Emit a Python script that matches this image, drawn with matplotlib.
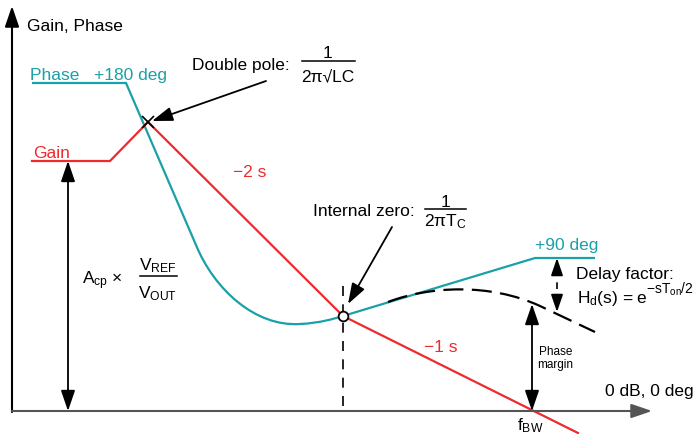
import matplotlib.pyplot as plt
from matplotlib.path import Path
from matplotlib.patches import PathPatch

plt.rcParams['font.family'] = ['Liberation Sans', 'DejaVu Sans']
plt.rcParams['mathtext.fontset'] = 'custom'
plt.rcParams['mathtext.rm'] = 'Liberation Sans'
plt.rcParams['mathtext.it'] = 'Liberation Sans:italic'
plt.rcParams['mathtext.default'] = 'regular'

TEAL = '#1aa0a8'
RED = '#ee2a2e'

# asymptotic gain: flat, rise, -2 slope to the zero, -1 slope past f_BW
gain_x = [32, 110, 148, 343, 578]
gain_y = [162, 162, 123, 317, 434]

# phase: +180 plateau, drop through the double pole, dip, rise to +90
phase_pts = [(32, 84), (126, 84), (196, 246),
             (214, 290), (255, 328), (300, 325),
             (320, 324), (333, 320), (343, 317),
             (535, 259), (595, 259)]
phase_codes = [Path.MOVETO, Path.LINETO, Path.LINETO,
               Path.CURVE4, Path.CURVE4, Path.CURVE4,
               Path.CURVE4, Path.CURVE4, Path.CURVE4,
               Path.LINETO, Path.LINETO]

# phase with the delay factor applied
delay_pts = [(388, 303), (430, 287), (490, 284), (540, 307), (595, 333)]
delay_codes = [Path.MOVETO, Path.CURVE4, Path.CURVE4, Path.CURVE4, Path.LINETO]

pole = (148, 123)
zero = (343, 317)
axis_y = 412

fig = plt.figure(figsize=(6.97, 4.35), dpi=100)
ax = fig.add_axes([0, 0, 1, 1])
ax.set_xlim(0, 697)
ax.set_ylim(435, 0)
ax.axis('off')


def arrow(tip, tail, style='-|>', color='black', lw=1.3, scale=12):
    ax.annotate('', xy=tip, xytext=tail,
                arrowprops=dict(arrowstyle=style + ',head_length=1.05,head_width=0.36',
                                color=color, lw=lw, mutation_scale=scale,
                                shrinkA=0, shrinkB=0))


# axes
arrow((12, 7), (12, axis_y + 1), color='black', lw=1.5)
arrow((652, axis_y), (12, axis_y), color='#555555', lw=1.5)

# curves
ax.plot(gain_x, gain_y, color=RED, lw=1.6, solid_joinstyle='miter')
ax.add_patch(PathPatch(Path(phase_pts, phase_codes), fill=False,
                       edgecolor=TEAL, lw=1.6))
ax.add_patch(PathPatch(Path(delay_pts, delay_codes), fill=False,
                       edgecolor='black', lw=1.6, linestyle=(0, (9, 3.8))))

ax.plot([zero[0], zero[0]], [287, axis_y], color='black', lw=1.2,
        linestyle=(0, (6, 5)))
ax.plot(*pole, marker='x', color='black', ms=8, mew=1.2)
ax.plot(*zero, marker='o', mfc='white', mec='black', ms=7, mew=1.3, zorder=5)

# gain level, phase margin and delay arrows
arrow((68, 162), (68, axis_y), style='<|-|>')
arrow((532, 305), (532, axis_y), style='<|-|>')
ax.plot([557, 557], [270, 302], color='black', lw=1.2, linestyle=(0, (4, 4)))
arrow((557, 259), (557, 274), scale=10)
arrow((557, 313), (557, 298), scale=10)

# callouts
arrow((152, 122), (266, 82))
arrow((348, 305), (392, 228))

fs = 12.5
ax.text(27, 31, 'Gain, Phase', fontsize=fs)
ax.text(30, 80, 'Phase   +180 deg', fontsize=fs, color=TEAL)
ax.text(33, 158, 'Gain', fontsize=fs, color=RED)
ax.text(233, 177, '\u22122 s', fontsize=fs, color=RED)
ax.text(424, 352, '\u22121 s', fontsize=fs, color=RED)
ax.text(535, 250, '+90 deg', fontsize=fs, color=TEAL)
ax.text(605, 396, '0 dB, 0 deg', fontsize=fs)
ax.text(517, 430, '$f_{BW}$', fontsize=fs)
ax.text(539, 355, 'Phase', fontsize=8.5)
ax.text(537, 368, 'margin', fontsize=8.5)


def fraction(xc, y_line, x0, x1, top, bottom, y_top, y_bot):
    ax.text(xc, y_top, top, fontsize=fs, ha='center', va='baseline')
    ax.plot([x0, x1], [y_line, y_line], color='black', lw=1.1)
    ax.text(xc, y_bot, bottom, fontsize=fs, ha='center', va='baseline')


ax.text(192, 70, 'Double pole:', fontsize=fs)
fraction(328, 62, 302, 355, '1', '2\u03c0\u221aLC', 58, 81)

ax.text(313, 216, 'Internal zero:', fontsize=fs)
fraction(445, 210, 425, 466, '1', '2\u03c0$T_C$', 207, 226)

ax.text(82, 284, '$A_{cp}$ \u00d7', fontsize=fs)
fraction(158, 277, 140, 177, '$V_{REF}$', '$V_{OUT}$', 270, 298)

ax.text(576, 279, 'Delay factor:', fontsize=fs)
ax.text(577, 303, '$H_d(s)$ = e', fontsize=fs)
ax.text(646, 294, '\u2212s$T_{on}$/2', fontsize=10)

fig.savefig('out.png', dpi=100)
